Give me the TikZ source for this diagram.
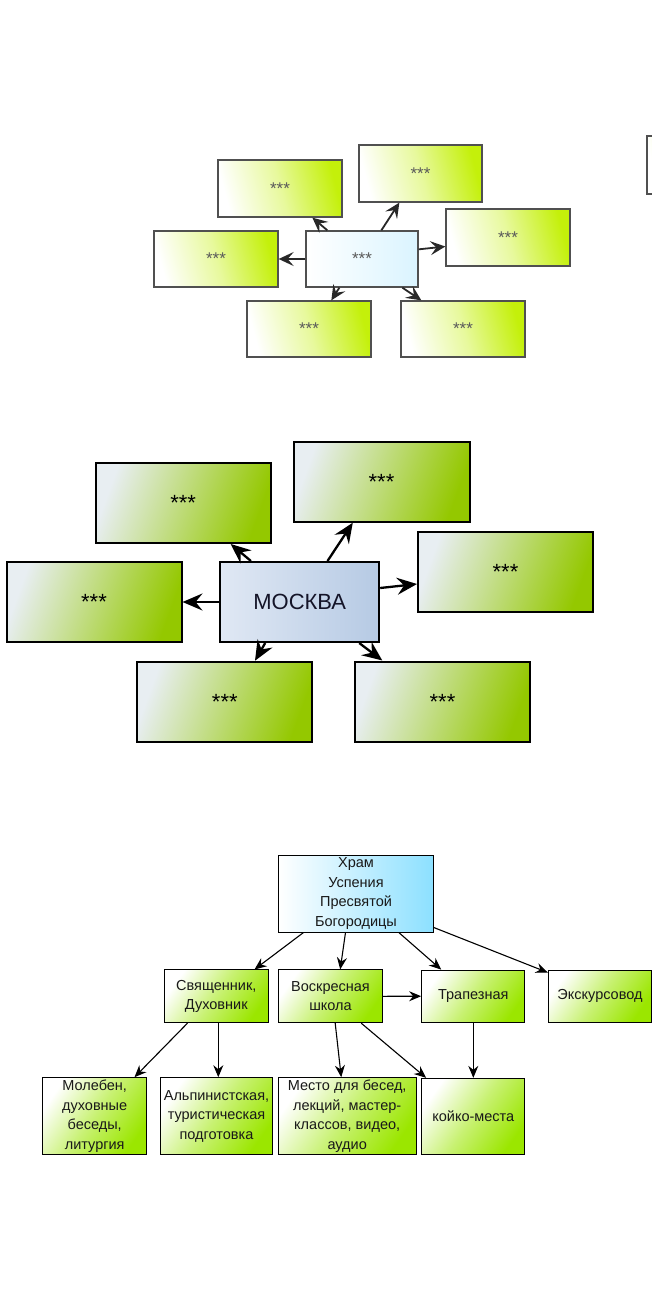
\documentclass[tikz,border=0pt]{standalone}
\usepackage{fontspec}
\setmainfont{Liberation Sans}
\usetikzlibrary{arrows.meta}
\definecolor{gA}{RGB}{196,240,10}
\definecolor{cA}{RGB}{218,244,255}
\definecolor{edgeA}{RGB}{80,80,80}
\definecolor{starA}{RGB}{90,90,90}
\definecolor{gB}{RGB}{148,200,0}
\definecolor{sB}{RGB}{232,238,242}
\definecolor{mB1}{RGB}{224,232,244}
\definecolor{mB2}{RGB}{182,202,228}
\definecolor{gC}{RGB}{155,230,0}
\definecolor{cC}{RGB}{140,224,255}
\definecolor{txtC}{RGB}{25,25,25}
\begin{document}
\begin{tikzpicture}[x=1pt,y=-1pt,
  boxA/.style={draw=edgeA, line width=1.3pt, left color=white, right color=gA, middle color=gA!40, shading angle=105,
    inner sep=0pt, minimum width=124pt, minimum height=57pt, text=starA, font=\fontsize{17}{17}\selectfont},
  centA/.style={boxA, right color=cA, middle color=cA!50, minimum width=112pt},
  boxB/.style={draw=black, line width=2pt, left color=sB, right color=gB, shading angle=70,
    inner sep=0pt, minimum width=175pt, minimum height=80pt, text=black, font=\fontsize{22}{22}\selectfont},
  centB/.style={boxB, left color=mB1, right color=mB2, minimum width=159pt, font=\fontsize{22}{22}\selectfont, text={rgb,255:red,20;green,20;blue,40}},
  boxC/.style={draw=black, line width=1pt, left color=white, right color=gC, middle color=gC!55, shading angle=55,
    inner sep=0pt, align=center, text=txtC, font=\fontsize{14.5}{19.5}\selectfont},
  hramC/.style={boxC, right color=cC, middle color=cC!50},
  arrA/.style={draw={rgb,255:red,40;green,40;blue,40}, line width=1.8pt, -{Stealth[length=15pt,width=14pt,inset=6pt]}},
  arrB/.style={draw=black, line width=2.3pt, -{Stealth[length=20pt,width=17pt,inset=7pt]}},
  arrC/.style={draw=black, line width=1.1pt, -{Stealth[length=12pt,width=10pt,inset=4pt]}}
]
\useasboundingbox (0,0) rectangle (652,1297);
\clip (0,0) rectangle (652,1297);

% ---------- diagram 1 ----------
\node[boxA] (atl) at (280,188.5) {***};
\node[boxA, minimum width=123pt] (atr) at (420.5,173.5) {***};
\node[boxA] (ar) at (508,237.5) {***};
\node[boxA, minimum height=56pt] (al) at (216,259) {***};
\node[centA, minimum height=56pt] (ac) at (362,259) {***};
\node[boxA, minimum height=56pt] (abl) at (309,329) {***};
\node[boxA, minimum height=56pt] (abr) at (463,329) {***};
\node[boxA, minimum height=58pt] (ap) at (709,165) {};

\draw[arrA] ([xshift=22pt]ac.north west) -- ([xshift=95pt]atl.south west);
\draw[arrA] ([xshift=76pt]ac.north west) -- ([xshift=41pt]atr.south west);
\draw[arrA] ([yshift=-19pt]ac.north east) -- ([yshift=-9pt]ar.west);
\draw[arrA] (ac.west) -- (al.east);
\draw[arrA] ([xshift=34pt]ac.south west) -- ([xshift=85pt]abl.north west);
\draw[arrA] ([xshift=97pt]ac.south west) -- ([xshift=21pt]abr.north west);

% ---------- diagram 2 ----------
\node[boxB] (btl) at (183.2,503) {***};
\node[boxB, minimum width=176pt] (btr) at (381.5,481.7) {***};
\node[boxB] (bl) at (94,602) {***};
\node[centB] (bc) at (299.7,602) {МОСКВА};
\node[boxB] (br) at (505.5,572) {***};
\node[boxB] (bbl) at (224.8,701.7) {***};
\node[boxB] (bbr) at (442.5,701.5) {***};

\draw[arrB] ([xshift=31.7pt]bc.north west) -- ([xshift=136pt]btl.south west);
\draw[arrB] ([xshift=108.3pt]bc.north west) -- ([xshift=60.3pt]btr.south west);
\draw[arrB] ([yshift=-27pt]bc.north east) -- ([yshift=-12pt]br.west);
\draw[arrB] (bc.west) -- (bl.east);
\draw[arrB] ([xshift=46pt]bc.south west) -- ([xshift=118.7pt]bbl.north west);
\draw[arrB] ([xshift=140pt]bc.south west) -- ([xshift=28.3pt]bbr.north west);

% ---------- diagram 3 ----------
\node[hramC, minimum width=154.6pt, minimum height=77pt] (hram) at (356,893.5) {Храм\\Успения\\Пресвятой\\Богородицы};
\node[boxC, minimum width=104pt, minimum height=52.7pt] (svy) at (216.3,996.3) {Священник,\\Духовник};
\node[boxC, minimum width=103.6pt, minimum height=52.7pt] (vos) at (330.5,996.3) {Воскресная\\школа};
\node[boxC, minimum width=103.3pt, minimum height=52.3pt] (tra) at (473.3,996.2) {Трапезная};
\node[boxC, minimum width=103.4pt, minimum height=52pt] (eks) at (600,996) {Экскурсовод};
\node[boxC, minimum width=104pt, minimum height=76.6pt] (mol) at (94.7,1116) {Молебен,\\духовные\\беседы,\\литургия};
\node[boxC, minimum width=111.6pt, minimum height=76.6pt] (alp) at (216.5,1116) {Альпинистская,\\туристическая\\подготовка};
\node[boxC, minimum width=137.7pt, minimum height=76.6pt] (mes) at (347.2,1116) {Место для бесед,\\лекций, мастер-\\классов, видео,\\аудио};
\node[boxC, minimum width=103.3pt, minimum height=75.7pt] (koi) at (473.3,1116.2) {койко-места};

\draw[arrC] ([xshift=25.3pt]hram.south west) -- ([xshift=90.7pt]svy.north west);
\draw[arrC] ([xshift=67.3pt]hram.south west) -- ([xshift=62pt]vos.north west);
\draw[arrC] ([xshift=120.6pt]hram.south west) -- ([xshift=20pt]tra.north west);
\draw[arrC] ([yshift=5pt]hram.south east) -- ([yshift=-3pt]eks.north west);
\draw[arrC] (vos.east) -- (tra.west);
\draw[arrC] ([xshift=23.7pt]svy.south west) -- ([xshift=92.3pt]mol.north west);
\draw[arrC] ([xshift=2pt]svy.south) -- ([xshift=1.8pt]alp.north);
\draw[arrC] ([xshift=57pt]vos.south west) -- ([xshift=63.4pt]mes.north west);
\draw[arrC] ([xshift=83pt]vos.south west) -- ([xshift=5pt]koi.north west);
\draw[arrC] (tra.south) -- (koi.north);
\end{tikzpicture}
\end{document}
